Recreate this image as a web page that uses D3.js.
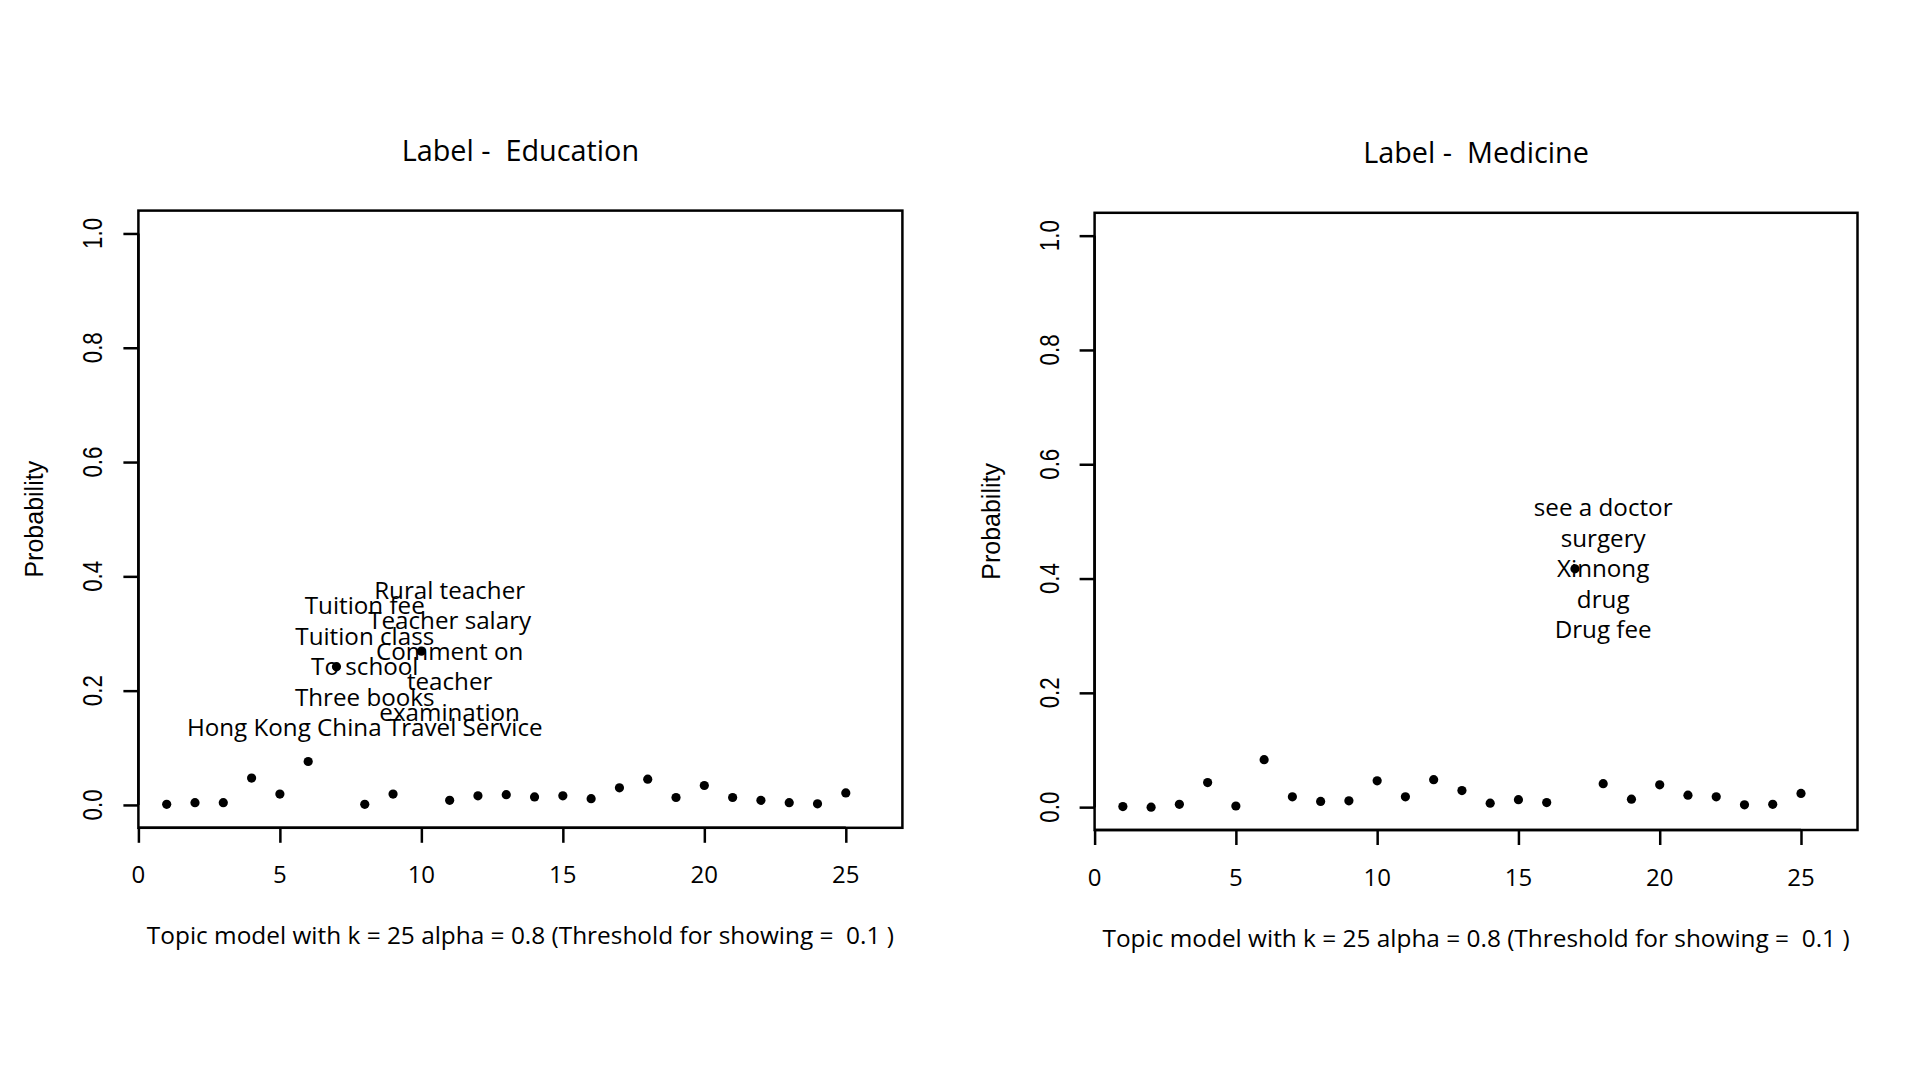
<!DOCTYPE html>
<html>
<head>
<meta charset="utf-8">
<script src="https://cdn.jsdelivr.net/npm/d3@7"></script>
<style>
  html, body { margin: 0; padding: 0; background: #ffffff; }
  svg { display: block; }
  svg text { white-space: pre; }
</style>
</head>
<body>
<svg id="chart" width="1920" height="1080"></svg>
<script>
// ---------- data ----------
const topics = [1,2,3,4,5,6,7,8,9,10,11,12,13,14,15,16,17,18,19,20,21,22,23,24,25];

const educationProb = [0.001,0.004,0.004,0.047,0.019,0.076,0.242,0.001,0.019,0.269,
                       0.008,0.016,0.018,0.014,0.016,0.011,0.030,0.045,0.013,0.034,
                       0.013,0.008,0.004,0.002,0.021];

const medicineProb  = [0.001,0.000,0.005,0.043,0.002,0.083,0.018,0.010,0.011,0.046,
                       0.018,0.048,0.029,0.007,0.013,0.008,0.417,0.041,0.014,0.039,
                       0.021,0.018,0.004,0.005,0.024];

// topics above threshold and their words
const educationTopics = [7, 10];
const educationWords = [
  ["Tuition fee","Tuition class","To school","Three books","Hong Kong China Travel Service"],
  ["Rural teacher","Teacher salary","Comment on","teacher","examination"]
];
const medicineTopics = [17];
const medicineWords = [
  ["see a doctor","surgery","Xinnong","drug","Drug fee"]
];

const xTicks = [0,5,10,15,20,25];
const yTicks = [0,0.2,0.4,0.6,0.8,1.0];
const yTickLabels = ["0.0","0.2","0.4","0.6","0.8","1.0"];

const titles = ["Label -  Education", "Label -  Medicine"];
const xLabel = "Topic model with k = 25 alpha = 0.8 (Threshold for showing =  0.1 )";
const yLabel = "Probability";

// ---------- drawing ----------
const svg = d3.select("#chart");
svg.append("rect").attr("width",1920).attr("height",1080).attr("fill","#fff");

const SANS = "'Open Sans', 'Noto Sans', sans-serif";
const HELV = "'Liberation Sans Narrow', 'Liberation Sans', Arial, sans-serif";

function drawPanel(p) {
  const x = d3.scaleLinear().domain([0, 27]).range([p.left, p.right]);
  const y = d3.scaleLinear().domain([-0.04, 1.04]).range([p.bottom, p.top]);
  const g = svg.append("g");

  // box
  g.append("rect")
    .attr("x", p.left).attr("y", p.top)
    .attr("width", p.right - p.left).attr("height", p.bottom - p.top)
    .attr("fill", "none").attr("stroke", "#000").attr("stroke-width", 2.5);

  // x axis
  const xAxis = d3.axisBottom(x).tickValues(xTicks).tickSize(15).tickPadding(0).tickFormat("");
  const xg = g.append("g").attr("transform", `translate(0,${p.bottom})`).call(xAxis);
  xg.select(".domain").attr("d", `M${x(0)},0H${x(25)}`).attr("stroke-width", 2.5);
  xg.selectAll(".tick line").attr("stroke-width", 2.5);
  g.selectAll(".xtl").data(xTicks).enter().append("text")
    .attr("x", d => x(d)).attr("y", p.bottom + 55.5)
    .attr("text-anchor", "middle")
    .attr("font-family", SANS).attr("font-size", 24)
    .text(d => d);

  // y axis
  const yAxis = d3.axisLeft(y).tickValues(yTicks).tickSize(15).tickFormat("");
  const yg = g.append("g").attr("transform", `translate(${p.left},0)`).call(yAxis);
  yg.select(".domain").attr("d", `M0,${y(0)}V${y(1)}`).attr("stroke-width", 2.5);
  yg.selectAll(".tick line").attr("stroke-width", 2.5);
  g.selectAll(".ytl").data(yTicks).enter().append("text")
    .attr("transform", d => `translate(${p.left - 36},${y(d)}) rotate(-90)`)
    .attr("text-anchor", "middle")
    .attr("font-family", HELV).attr("font-size", 27.5)
    .attr("textLength", 31).attr("lengthAdjust", "spacingAndGlyphs")
    .text((d, i) => yTickLabels[i]);

  // points
  g.selectAll(".pt").data(topics).enter().append("circle")
    .attr("cx", d => x(d)).attr("cy", (d, i) => y(p.values[i]))
    .attr("r", 4.6).attr("fill", "#000");

  // word labels
  p.labelTopics.forEach((t, k) => {
    const words = p.labelWords[k];
    const cx = x(t + 1);
    const cy = y(p.values[t - 1]);
    const lh = 30.5;
    const mid = (words.length - 1) / 2;
    g.selectAll(null).data(words).enter().append("text")
      .attr("x", cx)
      .attr("y", (w, j) => cy + (j - mid) * lh + 8.4)
      .attr("text-anchor", "middle")
      .attr("font-family", SANS).attr("font-size", 24.2)
      .text(w => w);
  });

  // title
  g.append("text")
    .attr("x", (p.left + p.right) / 2).attr("y", p.top - 50)
    .attr("text-anchor", "middle")
    .attr("font-family", SANS).attr("font-size", 28.8)
    .attr("xml:space", "preserve")
    .text(p.title);

  // x label
  g.append("text")
    .attr("x", (p.left + p.right) / 2).attr("y", p.bottom + 116.5)
    .attr("text-anchor", "middle")
    .attr("font-family", SANS).attr("font-size", 24.4)
    .attr("xml:space", "preserve")
    .text(xLabel);

  // y label
  g.append("text")
    .attr("transform", `translate(${p.left - 95},${(p.top + p.bottom) / 2}) rotate(-90)`)
    .attr("text-anchor", "middle")
    .attr("font-family", "'Liberation Sans', Arial, sans-serif").attr("font-size", 25)
    .text(yLabel);
}

drawPanel({left: 138.4, right: 902.4, top: 210.6, bottom: 827.8,
           values: educationProb, labelTopics: educationTopics, labelWords: educationWords,
           title: titles[0]});
drawPanel({left: 1094.6, right: 1857.5, top: 212.8, bottom: 830.0,
           values: medicineProb, labelTopics: medicineTopics, labelWords: medicineWords,
           title: titles[1]});
</script>
</body>
</html>
